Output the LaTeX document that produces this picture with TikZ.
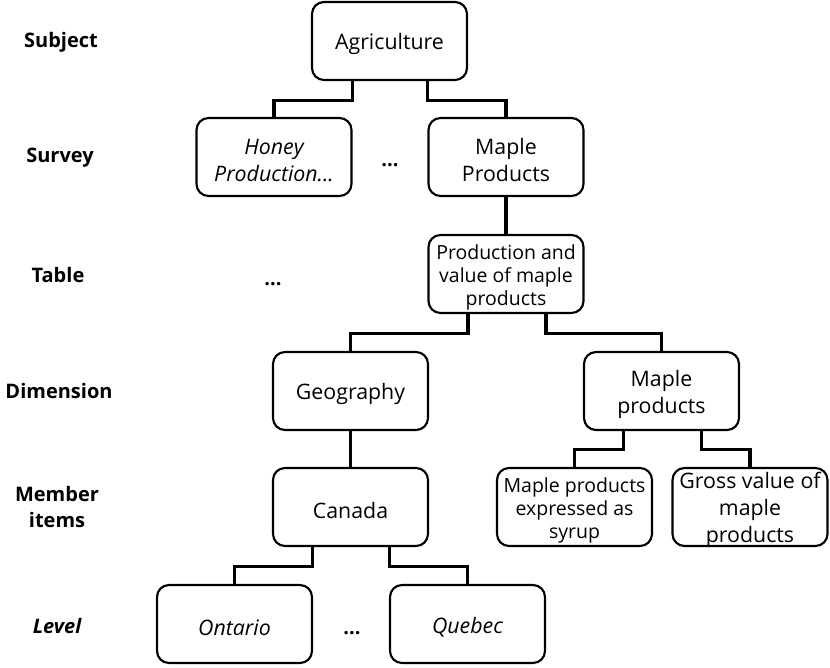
\documentclass[tikz,border=0pt]{standalone}
\usepackage{fontspec}
\setmainfont{Open Sans}
\usetikzlibrary{calc}
\tikzset{
  box/.style={draw=black, line width=1.6pt, rounded corners=9pt, fill=white,
    minimum width=155*0.75pt, minimum height=78*0.75pt, inner sep=0pt},
  boxtxt/.style={align=center, inner sep=0pt, yshift=-2.5pt, font=\fontsize{16}{20.3}\selectfont},
  smalltxt/.style={boxtxt, font=\fontsize{14.6}{17.5}\selectfont},
  ittxt/.style={boxtxt, font=\fontsize{16}{20.3}\selectfont\itshape},
  lvl/.style={font=\fontsize{15}{19}\selectfont\bfseries, align=center},
  link/.style={line width=2.3pt},
  dots/.style={font=\fontsize{15}{19}\selectfont\bfseries, anchor=base}
}
\begin{document}
\begin{tikzpicture}[x=0.75pt, y=-0.75pt]
\useasboundingbox (0,0) rectangle (830,667);
% level labels
\node[lvl] (lsubject) at (61,42) {Subject};
\node[lvl] (lsurvey) at (60,158) {Survey};
\node[lvl] (ltable) at (58,275) {Table};
\node[lvl] (ldim) at (59,391) {Dimension};
\node[lvl] (lmember) at (57,507) {Member\\items};
\node[lvl, font=\fontsize{15}{19}\selectfont\bfseries\itshape] (llevel) at (57,626) {Level};
% boxes
\node[box, label={[boxtxt]center:Agriculture}] (agri) at (389.5,41) {};
\node[box, label={[ittxt]center:{Honey\\Production...}}] (honey) at (274,157) {};
\node[box, label={[boxtxt]center:{Maple\\Products}}] (maple) at (506,157) {};
\node[box, label={[smalltxt]center:{Production and\\value of maple\\products}}] (table) at (506,274) {};
\node[box, label={[boxtxt]center:Geography}] (geo) at (350.5,391) {};
\node[box, label={[boxtxt]center:{Maple\\products}}] (mdim) at (661.5,391) {};
\node[box, label={[boxtxt]center:Canada}] (canada) at (350.5,507) {};
\node[box, label={[smalltxt]center:{Maple products\\expressed as\\syrup}}] (syrup) at (574.5,507) {};
\node[box, label={[boxtxt, yshift=0.5pt]center:{Gross value of\\maple\\products}}] (gross) at (750,507) {};
\node[box, label={[ittxt]center:Ontario}] (ontario) at (234.5,624) {};
\node[box, label={[ittxt]center:Quebec}] (quebec) at (467.5,624) {};
% ellipses
\node[dots] (d1) at (390,166) {...};
\node[dots] (d2) at (273,285) {...};
\node[dots] (d3) at (352,634) {...};
% connectors
\draw[link] ($(agri.south)+(-37,0)$) -- ++(0,19) -| (honey.north);
\draw[link] ($(agri.south)+(38,0)$) -- ++(0,19) -| (maple.north);
\draw[link] (maple.south) -- (table.north);
\draw[link] ($(table.south)+(-38,0)$) -- ++(0,19) -| (geo.north);
\draw[link] ($(table.south)+(40,0)$) -- ++(0,19) -| (mdim.north);
\draw[link] (geo.south) -- (canada.north);
\draw[link] ($(mdim.south)+(-38,0)$) -- ++(0,18) -| (syrup.north);
\draw[link] ($(mdim.south)+(40,0)$) -- ++(0,18) -| (gross.north);
\draw[link] ($(canada.south)+(-38,0)$) -- ++(0,19) -| (ontario.north);
\draw[link] ($(canada.south)+(39,0)$) -- ++(0,19) -| (quebec.north);
\end{tikzpicture}
\end{document}
